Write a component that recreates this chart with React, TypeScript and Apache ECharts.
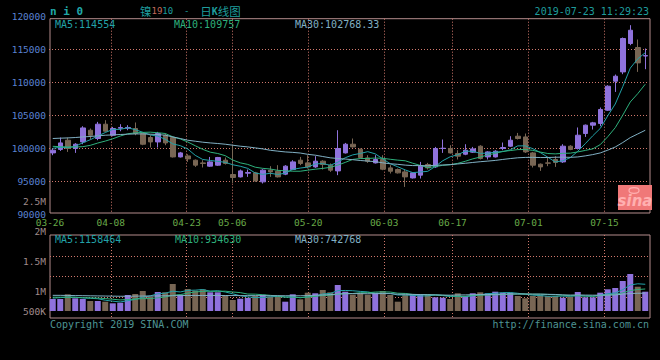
import React, { useEffect, useRef } from "react";
import * as echarts from "echarts";

// ---------- data ----------
const dates = [
  "03-26","03-27","03-28","03-29","04-01","04-02","04-03","04-04","04-08","04-09",
  "04-10","04-11","04-12","04-15","04-16","04-17","04-18","04-19","04-23","04-24",
  "04-25","04-26","04-29","04-30","05-06","05-07","05-08","05-09","05-10","05-13",
  "05-14","05-15","05-16","05-17","05-20","05-21","05-22","05-23","05-24","05-27",
  "05-28","05-29","05-30","05-31","06-03","06-04","06-05","06-06","06-10","06-11",
  "06-12","06-13","06-14","06-17","06-18","06-19","06-20","06-21","06-24","06-25",
  "06-26","06-27","06-28","07-01","07-02","07-03","07-04","07-05","07-08","07-09",
  "07-10","07-11","07-12","07-15","07-16","07-17","07-18","07-19","07-22","07-23",
];

const opens = [
  99300, 99820, 101230, 99970, 100970, 102750, 101490, 103670, 101990, 103060,
  103060, 103010, 102250, 101640, 100970, 101990, 101640, 98690, 98840, 98190,
  97780, 97280, 97430, 98190, 96010, 95650, 96210, 96260, 94890, 96670,
  96510, 96060, 96770, 98190, 97780, 97170, 98040, 97430, 96560, 99300,
  100620, 99860, 98540, 97780, 98300, 97020, 96770, 96410, 95490, 95910,
  97530, 97170, 99970, 99970, 99210, 99100, 99410, 100320, 98690, 98690,
  99970, 100320, 101840, 101730, 99300, 97580, 97780, 98300, 97930, 100320,
  99970, 102250, 103520, 103770, 105800, 110210, 111630, 115950, 115340, 114050,
];
const closes = [
  99710, 100820, 99970, 100620, 103100, 101990, 103670, 102600, 103010, 103170,
  103170, 102250, 100620, 100970, 102250, 100820, 98690, 99300, 98390, 97430,
  97690, 97930, 98600, 97690, 95560, 96560, 96320, 95040, 96670, 96410,
  95650, 97280, 97930, 97690, 97170, 98040, 97530, 96670, 99970, 100620,
  100210, 98600, 98040, 98300, 96820, 96510, 96260, 95650, 96260, 97280,
  97020, 99970, 100010, 99300, 98800, 99710, 99910, 98450, 99450, 99560,
  100120, 101230, 101490, 99450, 97430, 97170, 97730, 97840, 100320, 99820,
  101990, 103520, 103870, 105910, 109450, 110970, 116710, 117970, 113000, 114110,
];
const lows = [
  98950, 99600, 99450, 99300, 100620, 101340, 101230, 102500, 101840, 102600,
  102750, 101990, 100470, 100120, 100120, 100470, 98600, 98600, 97930, 97170,
  97080, 97170, 97320, 97530, 94730, 95560, 95650, 94890, 94640, 95650,
  95560, 95910, 96670, 97430, 96930, 97020, 96770, 96410, 95910, 99210,
  100120, 98450, 97780, 97690, 96670, 96160, 96160, 94120, 95400, 95400,
  96770, 97020, 99300, 99210, 98300, 98950, 99300, 98300, 98300, 98600,
  99710, 100210, 101340, 99300, 97080, 96560, 97280, 97170, 97780, 99710,
  99820, 101730, 102860, 103360, 105690, 108580, 111280, 115690, 111630, 112040,
];
const highs = [
  99970, 101640, 101640, 100780, 103360, 103010, 104020, 104280, 103260, 103670,
  103520, 103930, 102450, 101990, 102500, 102250, 101840, 99450, 99100, 98300,
  98190, 98690, 98690, 98600, 100470, 96770, 96770, 96410, 96820, 97280,
  97430, 97430, 98190, 98690, 98950, 98800, 98190, 97690, 102750, 100820,
  101490, 99970, 98950, 98950, 98950, 97430, 96930, 96770, 96300, 97930,
  97780, 100210, 101340, 100470, 99710, 100620, 100210, 100470, 99560, 99710,
  100880, 101840, 102340, 102250, 99450, 97690, 98690, 98800, 100620, 100470,
  103170, 103620, 104020, 106210, 109600, 111230, 116860, 118740, 116560, 115190,
];

const volumes = [
  521000, 521000, 725000, 551000, 521000, 434000, 434000, 404000, 334000, 360000,
  695000, 738000, 868000, 621000, 825000, 812000, 1172000, 708000, 955000, 881000,
  942000, 812000, 812000, 682000, 478000, 534000, 564000, 651000, 708000, 621000,
  621000, 404000, 725000, 508000, 795000, 769000, 912000, 812000, 1129000, 838000,
  708000, 769000, 708000, 795000, 868000, 695000, 404000, 708000, 725000, 725000,
  725000, 595000, 578000, 521000, 769000, 651000, 769000, 812000, 769000, 838000,
  795000, 795000, 651000, 551000, 651000, 695000, 651000, 651000, 578000, 621000,
  825000, 595000, 595000, 795000, 942000, 999000, 1303000, 1607000, 1055000, 838000,
];

// moving-average values for the days before a full window exists
const ma5Early = [100000, 100150, 100100, 100300];
const ma10Early = [100300, 100250, 100200, 100200, 100250, 100450, 100800, 101100, 101450];
const ma30Early = [
  101490, 101540, 101580, 101640, 101730, 101800, 101890, 101990, 102040, 102100,
  102150, 102190, 102190, 102150, 102100, 101990, 101730, 101490, 101230, 101080,
  100930, 100820, 100730, 100620, 100470, 100320, 100210, 100060, 99910,
];
const volMa5Early = [560000, 580000, 600000, 600000];
const volMa10Early = [600000, 600000, 600000, 590000, 580000, 570000, 560000, 540000, 510000];
const volMa30Early = [
  680000, 680000, 675000, 670000, 665000, 660000, 655000, 650000, 645000, 640000,
  640000, 645000, 650000, 650000, 655000, 660000, 665000, 670000, 675000, 675000,
  675000, 675000, 675000, 672000, 670000, 668000, 668000, 668000, 668000,
];

const xTickLabels = ["03-26", "04-08", "04-23", "05-06", "05-20", "06-03", "06-17", "07-01", "07-15"];
const priceMin = 90000;
const priceMax = 120000;
const priceStep = 5000;
const volTickValues = [500000, 1000000, 1500000, 2000000, 2500000];
const volTickLabels = ["500K", "1M", "1.5M", "2M", "2.5M"];

const symbolText = "n i 0";
const dateTimeText = "2019-07-23 11:29:23";
const mainMaTexts = ["MA5:114554", "MA10:109757", "MA30:102768.33"];
const volMaTexts = ["MA5:1158464", "MA10:934630", "MA30:742768"];
const copyrightText = "Copyright 2019 SINA.COM";
const urlText = "http://finance.sina.com.cn";

// ---------- helpers ----------
function movingAverage(values: number[], n: number, early: number[]): number[] {
  return values.map((_, i) => {
    if (i < n - 1) return early[i];
    let s = 0;
    for (let k = i - n + 1; k <= i; k++) s += values[k];
    return Math.round((s / n) * 100) / 100;
  });
}

const MONO = '"DejaVu Sans Mono", "Liberation Mono", monospace';
const UP = "#8f72dc";
const DOWN = "#786654";
const C_MA5 = "#22a2a8";
const C_MA10 = "#2eb07c";
const C_MA30 = "#80b0c4";
const BORDER = "#b48c8c";
const DOT = "#d0786c";
const TEAL = "#1e9c9c";

export default function App() {
  const ref = useRef<HTMLDivElement>(null);

  useEffect(() => {
    document.body.style.margin = "0";
    document.body.style.background = "#000";
    if (!ref.current) return;
    const chart = echarts.init(ref.current, undefined, { renderer: "svg" });

    const ma5 = movingAverage(closes, 5, ma5Early);
    const ma10 = movingAverage(closes, 10, ma10Early);
    const ma30 = movingAverage(closes, 30, ma30Early);
    const vma5 = movingAverage(volumes, 5, volMa5Early);
    const vma10 = movingAverage(volumes, 10, volMa10Early);
    const vma30 = movingAverage(volumes, 30, volMa30Early);

    const candleData = dates.map((_, i) => [opens[i], closes[i], lows[i], highs[i]]);
    const volData = volumes.map((v, i) => ({
      value: v,
      itemStyle: { color: closes[i] >= opens[i] ? UP : DOWN },
    }));

    const tickSet = new Set(xTickLabels);
    const showTick = (index: number) => tickSet.has(dates[index]);
    const showGridLine = (index: number) => index > 0 && tickSet.has(dates[index]);

    const dotted = { color: DOT, width: 1, type: [1, 2] as any };

    const lineSeries = (name: string, data: number[], color: string, axis: number) => ({
      name,
      type: "line",
      xAxisIndex: axis,
      yAxisIndex: axis,
      data,
      showSymbol: false,
      symbol: "none",
      smooth: false,
      lineStyle: { color, width: 1 },
      z: 3,
    });

    const text = (x: number, y: number, t: string, fill: string, align = "left", font = `10px ${MONO}`) => ({
      type: "text",
      x,
      y,
      silent: true,
      z: 10,
      style: { text: t, fill, font, align, verticalAlign: "middle" },
    });

    const option: any = {
      animation: false,
      backgroundColor: "#000000",
      grid: [
        { left: 49, width: 600, top: 16.9, bottom: 146 }, // 0 price data
        { left: 50, width: 600, top: 18.7, bottom: 147, show: true, borderColor: BORDER, borderWidth: 1, backgroundColor: "transparent" }, // 1 price frame
        { left: 49, width: 600, top: 235, bottom: 49 }, // 2 volume data
        { left: 50, width: 600, top: 235, bottom: 42, show: true, borderColor: BORDER, borderWidth: 1, backgroundColor: "transparent" }, // 3 volume frame
        { left: 49, width: 600, top: 201.5, bottom: 8.5 }, // 4 volume tick labels
      ],
      xAxis: [
        { type: "category", gridIndex: 0, data: dates, boundaryGap: true, show: false },
        {
          type: "category", gridIndex: 1, data: dates, boundaryGap: false,
          axisLine: { show: false }, axisTick: { show: false },
          axisLabel: { interval: showTick, color: "#68aa48", fontFamily: MONO, fontSize: 9.5, margin: 4, lineHeight: 10 },
          splitLine: { show: true, interval: showGridLine, lineStyle: dotted },
        },
        { type: "category", gridIndex: 2, data: dates, boundaryGap: true, show: false },
        {
          type: "category", gridIndex: 3, data: dates, boundaryGap: false,
          axisLine: { show: false }, axisTick: { show: false }, axisLabel: { show: false },
          splitLine: { show: true, interval: showGridLine, lineStyle: dotted },
        },
        { type: "category", gridIndex: 4, data: dates, show: false },
      ],
      yAxis: [
        {
          type: "value", gridIndex: 0, min: priceMin, max: priceMax, interval: priceStep,
          axisLine: { show: false }, axisTick: { show: false },
          axisLabel: {
            color: "#5a82d2", fontFamily: MONO, fontSize: 9.5, margin: 3, lineHeight: 10, padding: [0, 0, 4, 0],
            formatter: (v: number) => String(v),
          },
          splitLine: { show: true, showMinLine: false, showMaxLine: false, lineStyle: dotted },
        },
        { type: "value", gridIndex: 1, min: 0, max: 1, show: false },
        { type: "value", gridIndex: 2, min: 0, max: 3300000, show: false },
        {
          type: "value", gridIndex: 3, min: 0, max: 4, interval: 1,
          axisLine: { show: false }, axisTick: { show: false }, axisLabel: { show: false },
          splitLine: { show: true, showMinLine: false, showMaxLine: false, lineStyle: dotted },
        },
        {
          type: "value", gridIndex: 4, min: 0, max: 2500000, interval: 500000,
          axisLine: { show: false }, axisTick: { show: false }, splitLine: { show: false },
          axisLabel: {
            color: "#a08c8c", fontFamily: MONO, fontSize: 9.5, margin: 3, lineHeight: 10,
            formatter: (v: number) => {
              const k = volTickValues.indexOf(v);
              if (k < 0) return "";
              return k === 0 ? `{lift|${volTickLabels[k]}}` : volTickLabels[k];
            },
            rich: { lift: { color: "#a08c8c", fontFamily: MONO, fontSize: 9.5, lineHeight: 10, padding: [0, 0, 20, 0] } },
          },
        },
      ],
      series: [
        {
          type: "candlestick",
          xAxisIndex: 0,
          yAxisIndex: 0,
          data: candleData,
          barWidth: 5,
          itemStyle: { color: UP, color0: DOWN, borderColor: UP, borderColor0: DOWN, borderWidth: 1 },
          z: 2,
        },
        lineSeries("MA5", ma5, C_MA5, 0),
        lineSeries("MA10", ma10, C_MA10, 0),
        lineSeries("MA30", ma30, C_MA30, 0),
        {
          type: "bar",
          xAxisIndex: 2,
          yAxisIndex: 2,
          data: volData,
          barWidth: 6,
          clip: true,
          z: 2,
        },
        lineSeries("VMA5", vma5, C_MA5, 2),
        lineSeries("VMA10", vma10, C_MA10, 2),
        lineSeries("VMA30", vma30, C_MA30, 2),
      ],
      graphic: [
        text(50, 11, symbolText, "#20a8a8", "left", `bold 11px ${MONO}`),
        {
          type: "text", x: 140, y: 11, silent: true, z: 10,
          style: {
            text: "{a|镍}{b|19}{c|10}{c|  -  }{a|日}{k|K}{a|线图}",
            verticalAlign: "middle",
            rich: {
              a: { fill: TEAL, font: '11.5px "Noto Sans CJK SC"', lineHeight: 12 },
              b: { fill: "#c06a5a", font: `9px ${MONO}`, lineHeight: 12 },
              c: { fill: TEAL, font: `9px ${MONO}`, lineHeight: 12 },
              k: { fill: TEAL, font: `bold 10px ${MONO}`, lineHeight: 12 },
            },
          },
        },
        text(649, 11.5, dateTimeText, TEAL, "right"),
        text(55, 24.5, mainMaTexts[0], C_MA5),
        text(174, 24.5, mainMaTexts[1], C_MA10),
        text(295, 24.5, mainMaTexts[2], C_MA30),
        text(55, 239, volMaTexts[0], C_MA5),
        text(175, 239, volMaTexts[1], C_MA10),
        text(295, 239, volMaTexts[2], C_MA30),
        text(50, 324, copyrightText, "#4e9494"),
        text(649, 324, urlText, "#4e9494", "right"),
        { type: "rect", silent: true, z: 9, shape: { x: 618, y: 185, width: 34, height: 25 }, style: { fill: "#f07878" } },
        { type: "ellipse", silent: true, z: 10, shape: { cx: 634, cy: 190.5, rx: 5, ry: 2.8 }, style: { fill: "none", stroke: "#ffb0b0", lineWidth: 1.2 } },
        text(635, 201, "sina", "#ffb0b0", "center", 'italic bold 15px "DejaVu Sans"'),
      ],
    };

    chart.setOption(option);
    return () => chart.dispose();
  }, []);

  return <div ref={ref} style={{ position: "absolute", left: 0, top: 0, width: 660, height: 360 }} />;
}
